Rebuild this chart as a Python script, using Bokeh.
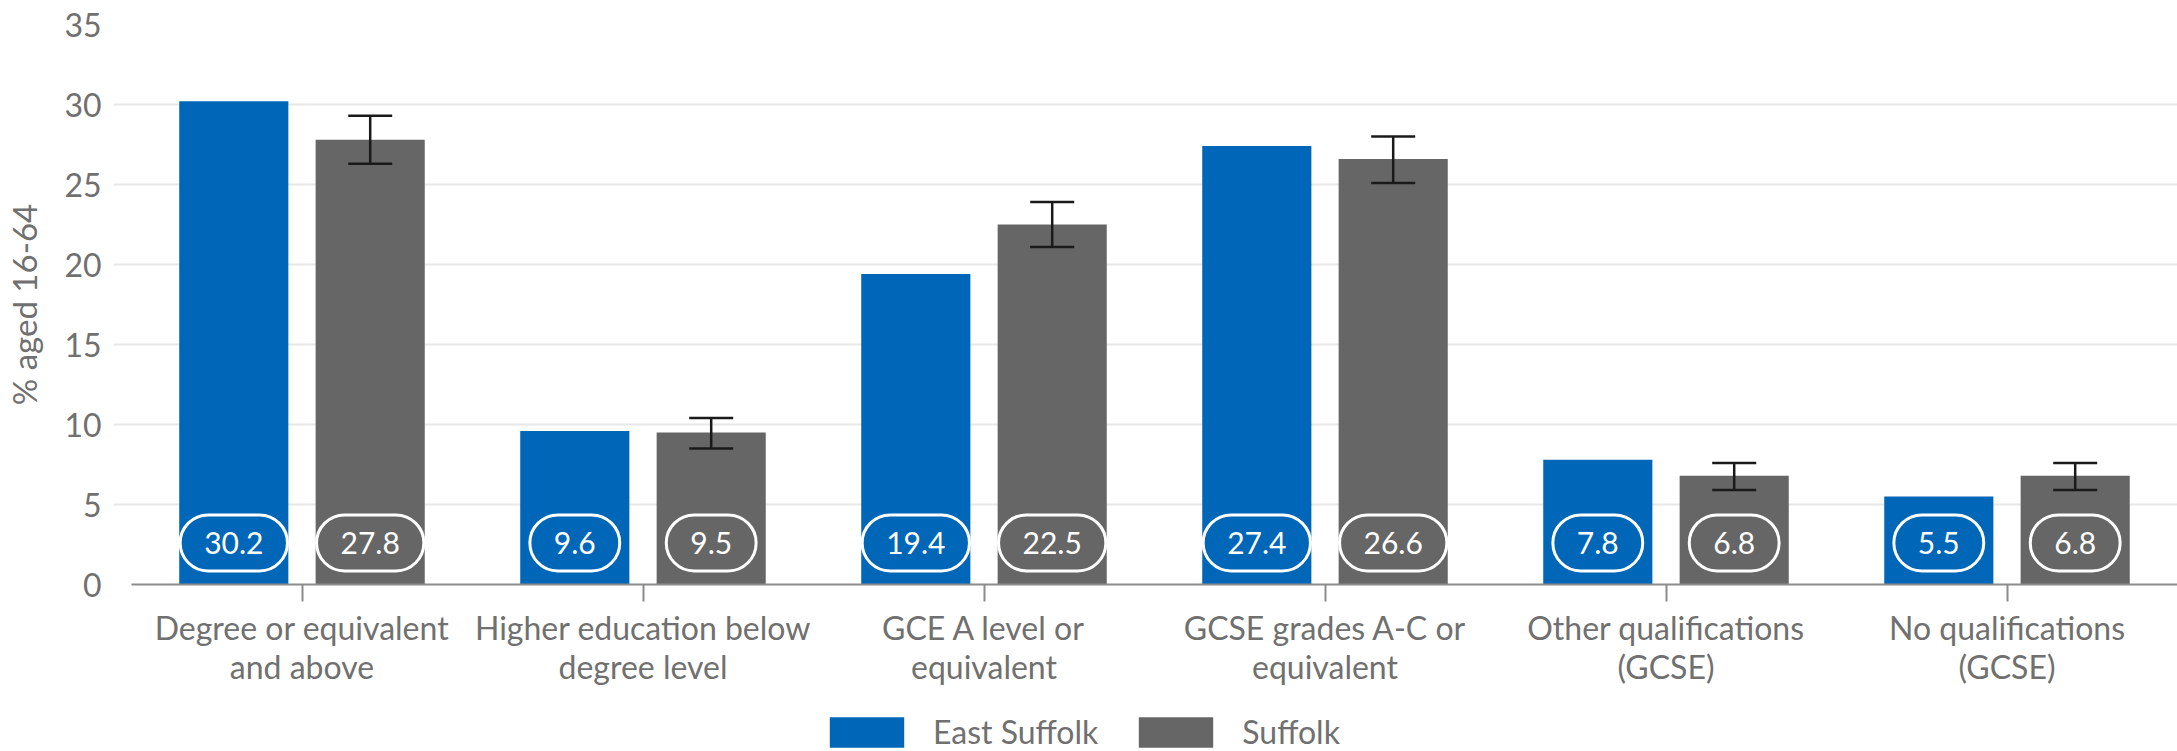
import numpy as np
from bokeh.plotting import figure
from bokeh.layouts import column
from bokeh.models import (ColumnDataSource, Range1d, FixedTicker, Whisker, TeeHead,
                          Label, Legend, LegendItem)
from bokeh.embed import file_html
from bokeh.resources import INLINE

# ---- data ----
categories = ["Degree or equivalent\nand above", "Higher education below\ndegree level",
              "GCE A level or\nequivalent", "GCSE grades A-C or\nequivalent",
              "Other qualifications\n(GCSE)", "No qualifications\n(GCSE)"]
series_names = ["East Suffolk", "Suffolk"]
east_suffolk = [30.2, 9.6, 19.4, 27.4, 7.8, 5.5]
suffolk = [27.8, 9.5, 22.5, 26.6, 6.8, 6.8]
suffolk_lower = [26.3, 8.5, 21.1, 25.1, 5.9, 5.9]
suffolk_upper = [29.3, 10.4, 23.9, 28.0, 7.6, 7.6]
y_ticks = [0, 5, 10, 15, 20, 25, 30, 35]
y_label = "% aged 16-64"

BLUE = "#0066b8"
GREY = "#666666"
TXT = "#707070"
FONT = "Lato"
FS = "32px"
W = 2177

centers = np.arange(len(categories)) + 0.5
off = 0.2
bw = 0.32

src_e = ColumnDataSource(dict(x=centers - off, top=east_suffolk))
src_s = ColumnDataSource(dict(x=centers + off, top=suffolk,
                              lower=suffolk_lower, upper=suffolk_upper))

p = figure(width=W, height=713, output_backend="svg", toolbar_location=None,
           x_range=Range1d(-18 / 341, len(categories)), y_range=Range1d(0, 35),
           min_border_left=113, min_border_right=0, min_border_top=24,
           min_border_bottom=129)
p.outline_line_color = None
p.background_fill_color = "white"

r_e = p.vbar(x="x", top="top", width=bw, source=src_e, fill_color=BLUE, line_color=None)
r_s = p.vbar(x="x", top="top", width=bw, source=src_s, fill_color=GREY, line_color=None)

wh = Whisker(base="x", upper="upper", lower="lower", source=src_s, level="annotation",
             line_color="#1a1a1a", line_width=2.5,
             upper_head=TeeHead(size=44, line_color="#1a1a1a", line_width=2.5),
             lower_head=TeeHead(size=44, line_color="#1a1a1a", line_width=2.5))
p.add_layout(wh)

# value pills
for xs, vals, col in ((centers - off, east_suffolk, BLUE), (centers + off, suffolk, GREY)):
    for xv, v in zip(xs, vals):
        lab = Label(x=xv, y=2.6, text=f"{v:.1f}", text_align="center", text_baseline="middle",
                    text_font=FONT, text_font_size="30px", text_color="white",
                    background_fill_color=col, border_line_color="white", border_line_width=3,
                    padding=dict(left=24, right=24, top=17, bottom=17), border_radius=33)
        p.add_layout(lab)

# y axis
p.yaxis.ticker = FixedTicker(ticks=y_ticks)
p.yaxis.axis_line_color = None
p.yaxis.major_tick_line_color = None
p.yaxis.minor_tick_line_color = None
p.yaxis.major_label_text_font = FONT
p.yaxis.major_label_text_font_size = FS
p.yaxis.major_label_text_color = TXT
p.yaxis.major_label_standoff = 6
p.yaxis.axis_label = y_label
p.yaxis.axis_label_text_font = FONT
p.yaxis.axis_label_text_font_size = "33px"
p.yaxis.axis_label_text_font_style = "normal"
p.yaxis.axis_label_text_color = TXT
p.yaxis.axis_label_standoff = 17

# x axis
p.xaxis.ticker = FixedTicker(ticks=list(centers))
p.xaxis.major_label_overrides = {float(c): lab for c, lab in zip(centers, categories)}
p.xaxis.bounds = (0, len(categories))
p.xaxis.axis_line_color = "#8c8c8c"
p.xaxis.axis_line_width = 2
p.xaxis.major_tick_line_color = "#8c8c8c"
p.xaxis.major_tick_line_width = 2
p.xaxis.major_tick_out = 17
p.xaxis.major_tick_in = 0
p.xaxis.minor_tick_line_color = None
p.xaxis.major_label_text_font = FONT
p.xaxis.major_label_text_font_size = FS
p.xaxis.major_label_text_color = TXT
p.xaxis.major_label_text_line_height = 1.0
p.xaxis.major_label_standoff = 6
p.xaxis.major_label_orientation = "horizontal"

p.xgrid.grid_line_color = None
p.ygrid.ticker = FixedTicker(ticks=y_ticks)
p.ygrid.grid_line_color = "#e8e8e8"
p.ygrid.grid_line_width = 2

# legend strip below the chart (frames of the two figures are aligned)
lf = figure(width=W, height=38, output_backend="svg", toolbar_location=None,
            x_range=Range1d(0, W), y_range=Range1d(0, 38),
            min_border_left=0, min_border_right=0, min_border_top=0, min_border_bottom=0)
lf.axis.visible = False
lf.grid.visible = False
lf.outline_line_color = None
l_e = lf.vbar(x="x", top="top", width=bw, source=src_e, fill_color=BLUE, line_color=None,
              visible=False)
l_s = lf.vbar(x="x", top="top", width=bw, source=src_s, fill_color=GREY, line_color=None,
              visible=False)
legend = Legend(items=[LegendItem(label=series_names[0], renderers=[l_e]),
                       LegendItem(label=series_names[1], renderers=[l_s])],
                orientation="horizontal", location=(707, 0),
                glyph_width=93, glyph_height=38, label_height=38, label_standoff=20,
                spacing=31, padding=0, margin=0, border_line_color=None,
                inactive_fill_alpha=0, background_fill_alpha=0,
                label_text_font=FONT, label_text_font_size=FS, label_text_color=TXT)
lf.add_layout(legend, "center")

layout = column(p, lf, spacing=0)
open("out.html", "w").write(file_html(layout, INLINE))
